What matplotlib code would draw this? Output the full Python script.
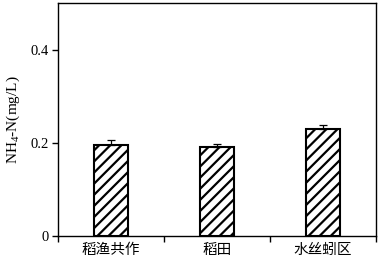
import matplotlib
matplotlib.use("Agg")
import matplotlib.pyplot as plt
from matplotlib.ticker import FixedLocator, FuncFormatter

categories = ['稻渔共作', '稻田', '水丝蚓区']
values = [0.196, 0.192, 0.229]
errors = [0.010, 0.005, 0.010]
yticks = [0, 0.2, 0.4]

plt.rcParams['hatch.linewidth'] = 1.6
plt.rcParams['mathtext.fontset'] = 'custom'
plt.rcParams['mathtext.rm'] = 'Liberation Serif'
plt.rcParams['mathtext.it'] = 'Liberation Serif'

fig = plt.figure(figsize=(3.78, 2.62), dpi=100)
ax = fig.add_axes([58 / 378, 26 / 262, 318 / 378, 233 / 262])

x = list(range(len(categories)))
ax.bar(x, values, width=0.32, color='white', edgecolor='black', linewidth=1.5,
       hatch='///', zorder=2)
ax.errorbar(x, values, yerr=[[0] * len(errors), errors], fmt='none', ecolor='black',
            elinewidth=0.9, capsize=3, capthick=0.9, zorder=3)

ax.set_xlim(-0.5, 2.5)
ax.set_ylim(0, 0.5)
ax.set_yticks(yticks)
ax.yaxis.set_major_formatter(FuncFormatter(lambda v, p: '0' if v == 0 else f'{v:.1f}'))
for lab in ax.get_yticklabels():
    lab.set_fontfamily('Liberation Serif')
    lab.set_fontsize(10.5)

ax.xaxis.set_major_locator(FixedLocator([-0.5, 0.5, 1.5, 2.5]))
ax.xaxis.set_major_formatter(FuncFormatter(lambda v, p: ''))
ax.xaxis.set_minor_locator(FixedLocator(x))
ax.set_xticklabels(categories, minor=True, family=['Noto Sans CJK SC', 'DejaVu Sans'],
                   fontsize=10.5)
ax.tick_params(axis='x', which='minor', length=0, pad=5)
ax.tick_params(axis='x', which='major', length=4, width=1, direction='out')
ax.tick_params(axis='y', length=4, width=1, direction='out', pad=3)

ax.set_ylabel('NH$_\\mathrm{4}$-N(mg/L)', family='Liberation Serif', fontsize=11, labelpad=6)

for s in ax.spines.values():
    s.set_linewidth(1.0)

fig.savefig('out.png', dpi=100)
